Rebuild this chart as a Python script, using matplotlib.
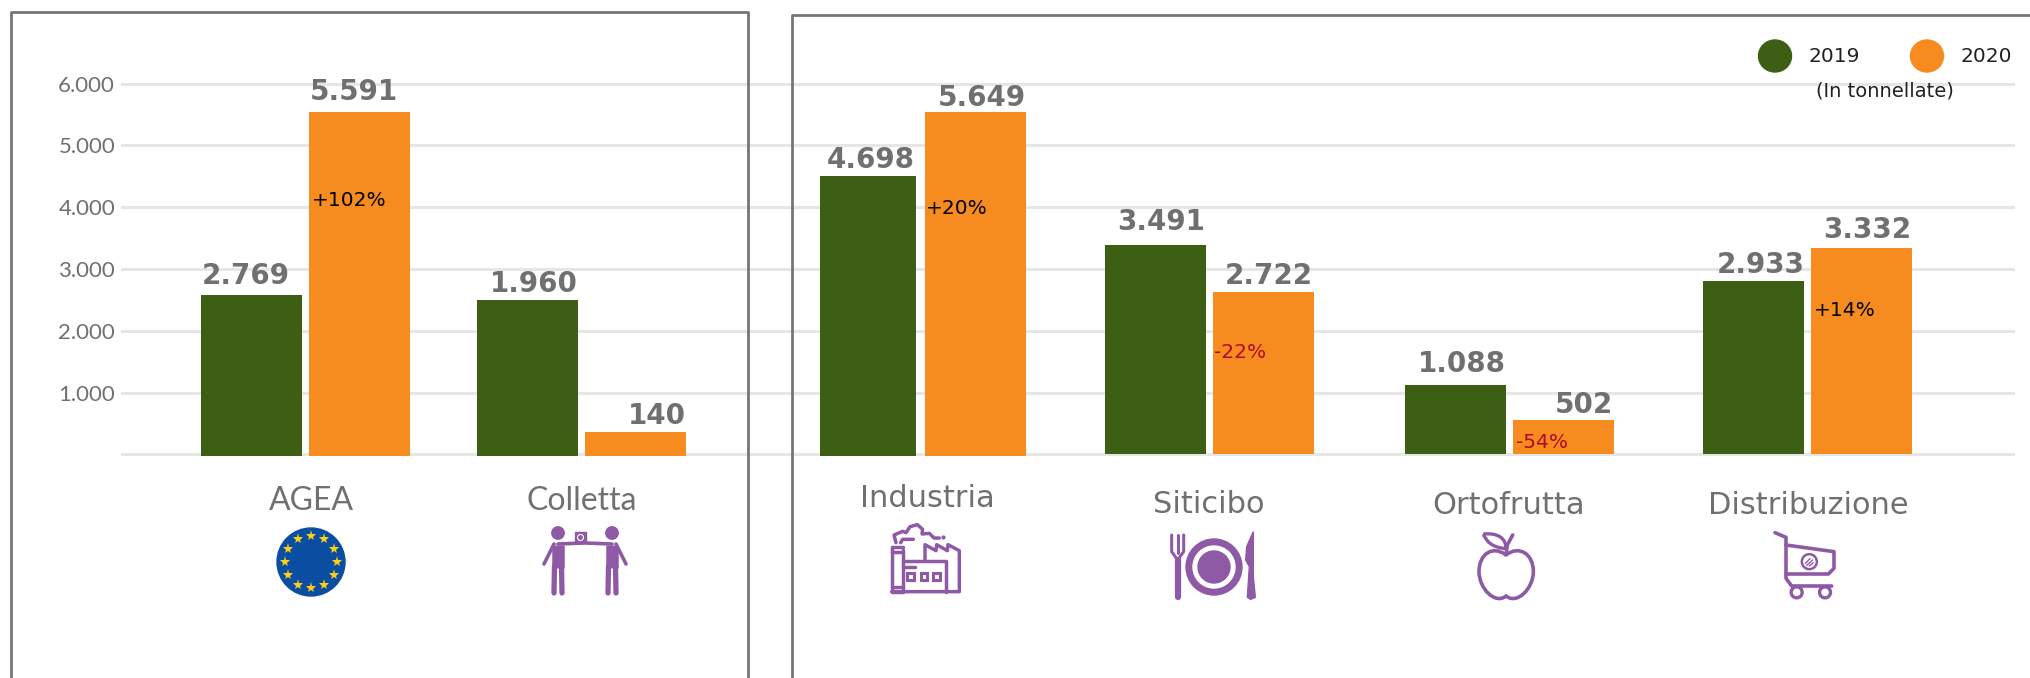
import numpy as np
import matplotlib
matplotlib.use("Agg")
import matplotlib.pyplot as plt
from matplotlib.patches import Circle, Ellipse, Polygon, Rectangle, PathPatch
from matplotlib.path import Path

plt.rcParams['font.family'] = ['Lato', 'DejaVu Sans']

categories = ["AGEA", "Colletta", "Industria", "Siticibo", "Ortofrutta", "Distribuzione"]
# printed values
labels_2019 = ["2.769", "1.960", "4.698", "3.491", "1.088", "2.933"]
labels_2020 = ["5.591", "140", "5.649", "2.722", "502", "3.332"]
# bar heights, they differ a bit from the printed values
bars_2019 = [2580, 2497, 4503, 3385, 1126, 2804]
bars_2020 = [5538, 364, 5538, 2629, 559, 3336]
changes = ["+102%", None, "+20%", "-22%", "-54%", "+14%"]
yticks = [1000, 2000, 3000, 4000, 5000, 6000]
ytick_labels = ["1.000", "2.000", "3.000", "4.000", "5.000", "6.000"]

GREEN = "#3c5f14"
ORANGE = "#f68b1f"
GREY = "#6f7072"
FRAME = "#757575"
PURPLE = "#8f5aa5"
RED = "#b00a2a"

# layout, in pixels of the 2031x678 picture
W, H = 2031, 678
left_2019 = [201, 477, 820, 1105, 1405, 1703]
right_2019 = [302, 578, 916, 1206, 1506, 1804]
left_2020 = [309, 585, 925, 1213, 1513, 1811]
right_2020 = [410, 686, 1026, 1314, 1614, 1912]
base = [-32, -32, -20, 0, 0, 0]
cat_x = [311, 581.5, 927, 1209, 1508.5, 1808]
cat_y = [501.5, 501.5, 498.5, 504.5, 505, 505]
val_pos_2019 = [(246, 284.5), (533.5, 292), (870.5, 168), (1161, 229.5), (1461.5, 372.5), (1760.5, 273)]
val_pos_2020 = [(353.5, 100), (657, 424.5), (982, 105.5), (1268.5, 284), (1584, 413), (1867, 238)]
change_pos = [(312, 200), None, (926, 208), (1214, 352), (1516, 442), (1814, 310)]

fig = plt.figure(figsize=(W / 100, H / 100), dpi=100, facecolor="white")

y0, y6 = 454.4, 83.5
ax = fig.add_axes([122 / W, 1 - y0 / H, (2013 - 122) / W, (y0 - y6) / H])
ax.set_xlim(122, 2013)
ax.set_ylim(0, 6000)
for s in ax.spines.values():
    s.set_visible(False)
ax.set_xticks([])
ax.set_yticks([0] + yticks)
ax.set_yticklabels([""] + ytick_labels, fontsize=16, color=GREY)
ax.tick_params(axis='y', length=0, pad=5)
ax.grid(axis='y', color="#e6e6e6", linewidth=2.2)
ax.set_axisbelow(True)
for g in ax.get_ygridlines():
    g.set_clip_on(False)

for i in range(len(categories)):
    ax.bar(left_2019[i], bars_2019[i] - base[i], right_2019[i] - left_2019[i], bottom=base[i],
           align='edge', color=GREEN, clip_on=False)
    ax.bar(left_2020[i], bars_2020[i] - base[i], right_2020[i] - left_2020[i], bottom=base[i],
           align='edge', color=ORANGE, clip_on=False)

# overlay in picture pixels for frames, text and icons
ov = fig.add_axes([0, 0, 1, 1])
ov.set_xlim(0, W)
ov.set_ylim(H, 0)
ov.axis('off')
ov.patch.set_alpha(0)

ov.plot([11, 11, 748, 748], [H, 12, 12, H], color=FRAME, lw=2)
ov.plot([792, 792, W], [H, 14.5, 14.5], color=FRAME, lw=2)

for i, c in enumerate(categories):
    # the two left panel labels are narrower than the others in the original
    if i < 2:
        ov.text(cat_x[i], cat_y[i], c, ha='center', va='center', fontsize=23, color=GREY)
    else:
        ov.text(cat_x[i], cat_y[i], c, ha='center', va='center', fontsize=22, color=GREY, family='DejaVu Sans')
    x, y = val_pos_2019[i]
    ov.text(x, y, labels_2019[i], ha='center', va='baseline', fontsize=20, fontweight='bold', color=GREY,
            family='DejaVu Sans')
    x, y = val_pos_2020[i]
    ov.text(x, y, labels_2020[i], ha='center', va='baseline', fontsize=20, fontweight='bold', color=GREY,
            family='DejaVu Sans')
    if changes[i]:
        x, y = change_pos[i]
        col = RED if changes[i][0] == "-" else "black"
        ov.text(x, y, changes[i], ha='left', va='center', fontsize=14.5, color=col, family='DejaVu Sans')

# legend
ov.add_patch(Ellipse((1775, 56), 33, 32, color=GREEN))
ov.add_patch(Ellipse((1927, 56), 33, 32, color=ORANGE))
ov.text(1808, 57, "2019", ha='left', va='center', fontsize=14.5, color="#222222", family='DejaVu Sans')
ov.text(1960, 57, "2020", ha='left', va='center', fontsize=14.5, color="#222222", family='DejaVu Sans')
ov.text(1885, 91, "(In tonnellate)", ha='center', va='center', fontsize=14, color="#222222", family='DejaVu Sans')


def line(pts, lw=2.5, color=PURPLE, cap='round'):
    xs, ys = zip(*pts)
    ov.plot(xs, ys, color=color, lw=lw, solid_capstyle=cap, solid_joinstyle='round')


# EU flag
ov.add_patch(Circle((311, 562), 34, color="#0a4ea2"))
for a in np.arange(12) * np.pi / 6:
    ov.plot(311 + 26 * np.cos(a), 562 + 26 * np.sin(a), marker='*', ms=8, color="#ffcc1a", mew=0)

# two people handing over a box
for m in (1, -1):
    px = lambda v: v if m == 1 else 1170 - v
    ov.add_patch(Circle((px(558), 533), 6.2, color=PURPLE))
    line([(px(558), 545), (px(558), 568)], lw=9, cap='butt')
    line([(px(554.5), 566), (px(554), 593)], lw=3.8)
    line([(px(561.5), 566), (px(562), 593)], lw=3.8)
    line([(px(554), 544), (px(544), 564)], lw=2.6)
    line([(px(558), 544), (px(584), 543)], lw=2.6)
ov.add_patch(Rectangle((575, 532), 11, 11, color=PURPLE))
ov.add_patch(Circle((580.5, 537.5), 3, fill=False, ec="white", lw=0.8))


# factory, points given in the crop of x=860 y=510 at 3x
def fa(pts):
    return [(860 + a / 3, 510 + b / 3) for a, b in pts]


line(fa([(128, 120), (128, 245), (97, 245), (97, 112), (128, 112)]))
line(fa([(97, 125), (128, 125)]))
line(fa([(97, 232), (128, 232)]))
line(fa([(95, 245), (298, 245), (298, 122), (264, 104), (262, 122), (230, 104), (228, 122), (195, 104), (195, 150)]))
line(fa([(128, 153), (258, 153), (258, 245)]))
line(fa([(130, 170), (165, 170)]))
for a in (152, 192, 230):
    ov.add_patch(Rectangle((860 + (a - 10) / 3, 510 + 190 / 3), 20 / 3, 20 / 3, fill=False, ec=PURPLE, lw=2.2))
cloud = [(108, 98), (102, 75), (128, 64), (138, 68), (150, 50), (172, 44), (188, 58), (186, 72), (208, 70), (222, 84), (238, 84)]
line(fa(cloud))
line(fa([(122, 98), (128, 88), (160, 88)]))
ov.plot(860 + 250 / 3, 510 + 82 / 3, 'o', ms=2, color=PURPLE)

# plate and cutlery
ov.add_patch(Circle((1214, 567), 28, color=PURPLE))
ov.add_patch(Circle((1214, 567), 21, color="white"))
ov.add_patch(Circle((1214, 567), 16, color=PURPLE))
line(fa([(953, 150), (953, 262)]), lw=4.5)
line(fa([(935, 75), (935, 125), (953, 150), (971, 125), (971, 75)]), lw=2.2)
line(fa([(953, 75), (953, 130)]), lw=2.2)
ov.add_patch(Polygon(fa([(1180, 65), (1180, 200), (1186, 262), (1172, 268), (1162, 262), (1168, 170), (1157, 150), (1160, 110)]),
                     color=PURPLE))

# apple
verts = [(228, 135), (190, 105), (147, 130), (147, 185), (147, 235), (195, 285), (228, 258),
         (262, 285), (310, 235), (310, 185), (310, 130), (266, 105), (228, 135)]
verts = [(1430 + a / 3, 510 + b / 3) for a, b in verts]
codes = [Path.MOVETO] + [Path.CURVE4] * 12
ov.add_patch(PathPatch(Path(verts, codes), fc="none", ec=PURPLE, lw=2.6))
ap = lambda pts: [(1430 + a / 3, 510 + b / 3) for a, b in pts]
line(ap([(228, 135), (232, 105), (248, 75)]), lw=2.6)
leaf = ap([(160, 72), (205, 68), (228, 85), (228, 116), (185, 112), (170, 95), (160, 72)])
ov.add_patch(PathPatch(Path(leaf, [Path.MOVETO] + [Path.CURVE4] * 6), fc="none", ec=PURPLE, lw=2.4))

# cart
line(ap([(1035, 68), (1068, 82), (1068, 205), (1085, 228), (1205, 228)]), lw=2.6)
line(ap([(1068, 105), (1212, 125), (1212, 175), (1195, 192), (1068, 192)]), lw=2.6)
for a in (1100, 1185):
    ov.add_patch(Circle((1430 + a / 3, 510 + 247 / 3), 5.5, fc="white", ec=PURPLE, lw=2.4))
ov.add_patch(Circle((1430 + 1138 / 3, 510 + 155 / 3), 7.5, fc="none", ec=PURPLE, lw=1.8))
line(ap([(1126, 160), (1140, 146)]), lw=1)
line(ap([(1130, 166), (1148, 150)]), lw=1)
line(ap([(1138, 168), (1150, 158)]), lw=1)

fig.savefig("out.png", dpi=100)
